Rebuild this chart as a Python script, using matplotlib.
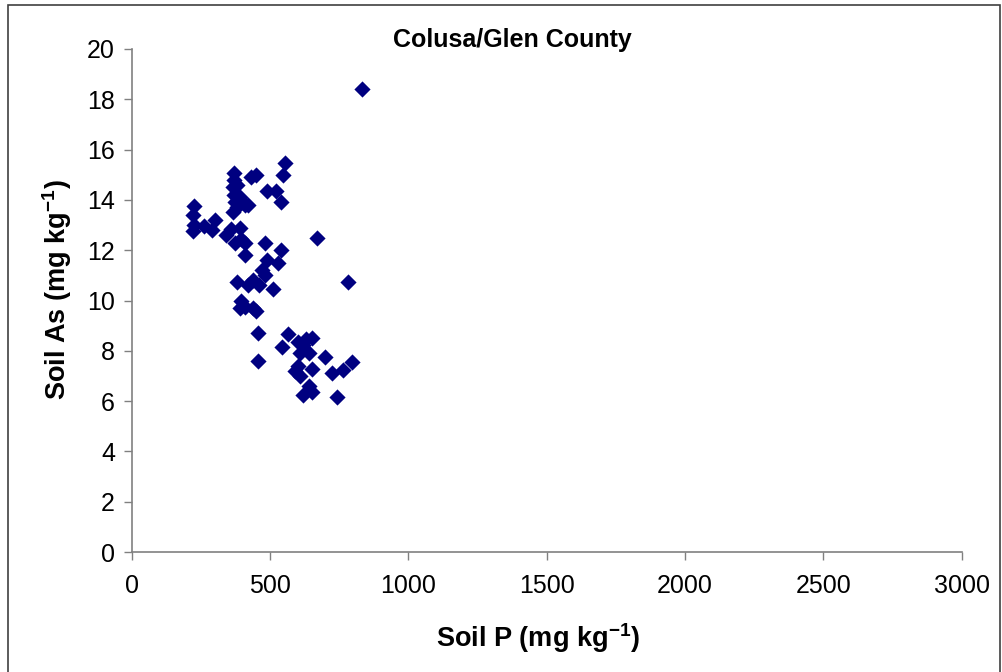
import matplotlib
matplotlib.use("Agg")
import matplotlib.pyplot as plt
from matplotlib.patches import Rectangle

soil_p = [832, 555, 548, 450, 370, 370, 380, 430, 490, 520, 540, 365, 370, 375, 390, 400,
          410, 420, 365, 380, 225, 220, 225, 220, 260, 300, 290, 340, 360, 390, 375, 395,
          410, 480, 540, 670, 410, 490, 530, 470, 480, 380, 420, 440, 460, 510, 780, 395,
          390, 410, 440, 450, 455, 455, 565, 543, 600, 620, 630, 651, 610, 640, 600, 590,
          610, 651, 699, 724, 764, 796, 620, 640, 650, 741]
soil_as = [18.4, 15.45, 15.0, 15.0, 15.05, 14.8, 14.6, 14.9, 14.35, 14.35, 13.9, 14.5, 14.2,
           13.9, 14.1, 13.95, 13.8, 13.8, 13.5, 13.7, 13.75, 13.4, 13.0, 12.75, 12.95, 13.2,
           12.8, 12.6, 12.85, 12.9, 12.3, 12.45, 12.3, 12.3, 12.0, 12.5, 11.8, 11.6, 11.5,
           11.2, 11.0, 10.75, 10.6, 10.8, 10.6, 10.45, 10.75, 10.0, 9.7, 9.75, 9.7, 9.6, 8.7,
           7.6, 8.67, 8.15, 8.35, 8.25, 8.45, 8.5, 7.9, 7.9, 7.4, 7.2, 7.0, 7.27, 7.75, 7.1,
           7.24, 7.55, 6.25, 6.6, 6.36, 6.16]

x_ticks = [0, 500, 1000, 1500, 2000, 2500, 3000]
y_ticks = [0, 2, 4, 6, 8, 10, 12, 14, 16, 18, 20]

plt.rcParams['font.family'] = ['Liberation Sans', 'DejaVu Sans']
plt.rcParams['mathtext.fontset'] = 'custom'
plt.rcParams['mathtext.rm'] = 'Liberation Sans:bold'
plt.rcParams['mathtext.bf'] = 'Liberation Sans:bold'
plt.rcParams['mathtext.it'] = 'Liberation Sans:bold'

fig = plt.figure(figsize=(10.03, 6.72), dpi=100)
ax = fig.add_axes([131.7 / 1003, 1 - 552 / 672, 830 / 1003, 503 / 672])

ax.scatter(soil_p, soil_as, marker='D', s=68, color='#000080', linewidths=0, zorder=3)

ax.set_xlim(0, 3000)
ax.set_ylim(0, 20)
ax.set_xticks(x_ticks)
ax.set_yticks(y_ticks)
ax.tick_params(axis='both', direction='out', length=6, width=1, color='#808080',
               labelsize=18, pad=6)
ax.tick_params(axis='x', pad=10)
for s in ['top', 'right']:
    ax.spines[s].set_visible(False)
for s in ['left', 'bottom']:
    ax.spines[s].set_color('#808080')
    ax.spines[s].set_linewidth(1.2)

fig.text(512 / 1003, 1 - 40 / 672, 'Colusa/Glen County', ha='center', va='center',
         fontsize=18, fontweight='bold')
fig.text(538 / 1003, 1 - 638 / 672, 'Soil P (mg kg$^{-1}$)', ha='center', va='center',
         fontsize=19.5, fontweight='bold')
fig.text(57 / 1003, 1 - 290 / 672, 'Soil As (mg kg$^{-1}$)', ha='center', va='center',
         fontsize=19.5, fontweight='bold', rotation=90)

fig.patches.append(Rectangle((8 / 1003, -0.05), (1000 - 8) / 1003, 1.05 - 5 / 672,
                             transform=fig.transFigure, fill=False, edgecolor='#404040',
                             linewidth=1.2))

fig.savefig('out.png', dpi=100)
